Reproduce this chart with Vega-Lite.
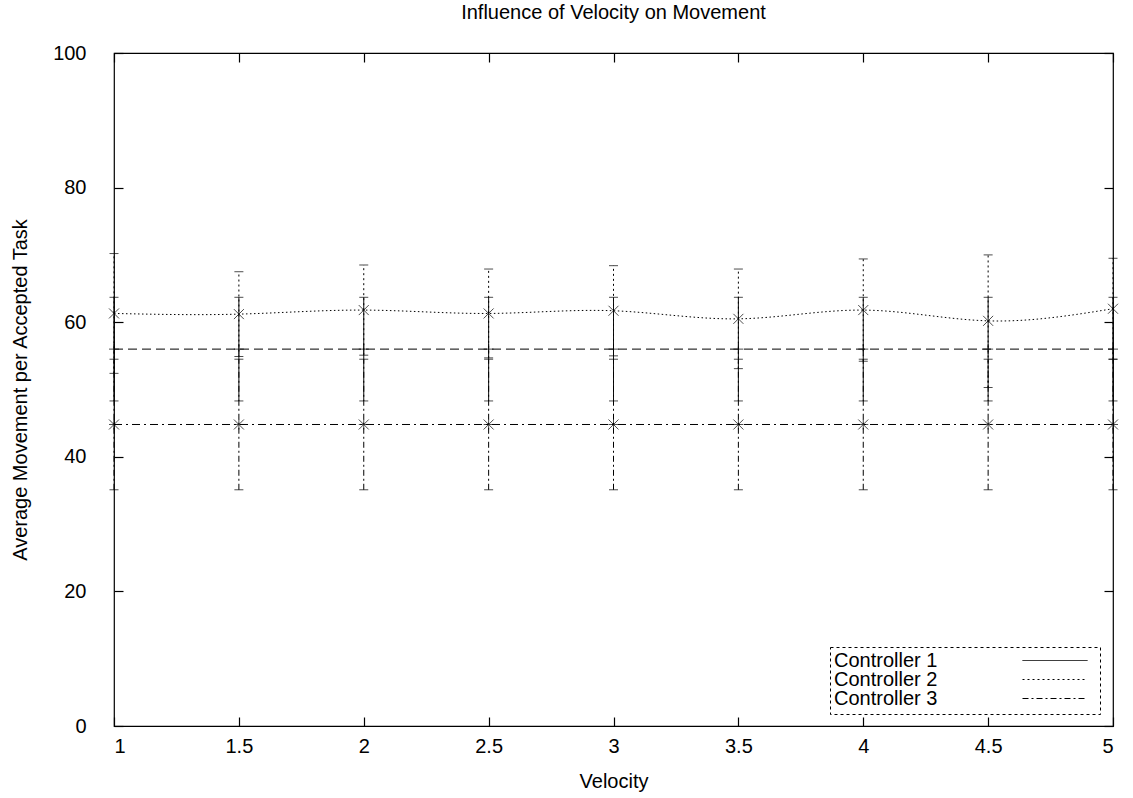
{
  "$schema": "https://vega.github.io/schema/vega-lite/v6.json",
  "width": 999,
  "height": 673,
  "autosize": "none",
  "padding": {"left": 114, "top": 53, "right": 20, "bottom": 72},
  "background": "white",
  "title": {"text": "Influence of Velocity on Movement", "fontSize": 20, "font": "Liberation Sans", "fontWeight": "normal", "color": "black", "offset": 20, "anchor": "middle"},
  "config": {
    "view": {"stroke": "black", "strokeWidth": 1.2},
    "font": "Liberation Sans",
    "axis": {"grid": false, "domain": false, "tickColor": "black", "tickSize": -9, "tickWidth": 1.2, "labelColor": "black", "labelFontSize": 20, "titleFontSize": 20, "titleFontWeight": "normal", "titleColor": "black", "labelFont": "Liberation Sans", "titleFont": "Liberation Sans"}
  },
  "data": {"values": [
    {"x": 1, "series": "Controller 1", "mean": 56.0, "lo": 48.3, "hi": 63.7},
    {"x": 1.5, "series": "Controller 1", "mean": 56.0, "lo": 48.3, "hi": 63.7},
    {"x": 2, "series": "Controller 1", "mean": 56.0, "lo": 48.3, "hi": 63.7},
    {"x": 2.5, "series": "Controller 1", "mean": 56.0, "lo": 48.3, "hi": 63.7},
    {"x": 3, "series": "Controller 1", "mean": 56.0, "lo": 48.3, "hi": 63.7},
    {"x": 3.5, "series": "Controller 1", "mean": 56.0, "lo": 48.3, "hi": 63.7},
    {"x": 4, "series": "Controller 1", "mean": 56.0, "lo": 48.3, "hi": 63.7},
    {"x": 4.5, "series": "Controller 1", "mean": 56.0, "lo": 48.3, "hi": 63.7},
    {"x": 5, "series": "Controller 1", "mean": 56.0, "lo": 48.3, "hi": 63.7},
    {"x": 1, "series": "Controller 2", "mean": 61.3, "lo": 52.4, "hi": 70.2},
    {"x": 1.5, "series": "Controller 2", "mean": 61.2, "lo": 54.9, "hi": 67.5},
    {"x": 2, "series": "Controller 2", "mean": 61.8, "lo": 55.1, "hi": 68.5},
    {"x": 2.5, "series": "Controller 2", "mean": 61.3, "lo": 54.7, "hi": 67.9},
    {"x": 3, "series": "Controller 2", "mean": 61.7, "lo": 55.0, "hi": 68.4},
    {"x": 3.5, "series": "Controller 2", "mean": 60.5, "lo": 53.1, "hi": 67.9},
    {"x": 4, "series": "Controller 2", "mean": 61.8, "lo": 54.2, "hi": 69.4},
    {"x": 4.5, "series": "Controller 2", "mean": 60.2, "lo": 50.3, "hi": 70.0},
    {"x": 5, "series": "Controller 2", "mean": 62.0, "lo": 54.5, "hi": 69.5},
    {"x": 1, "series": "Controller 3", "mean": 44.8, "lo": 35.1, "hi": 54.5},
    {"x": 1.5, "series": "Controller 3", "mean": 44.8, "lo": 35.1, "hi": 54.5},
    {"x": 2, "series": "Controller 3", "mean": 44.8, "lo": 35.1, "hi": 54.5},
    {"x": 2.5, "series": "Controller 3", "mean": 44.8, "lo": 35.1, "hi": 54.5},
    {"x": 3, "series": "Controller 3", "mean": 44.8, "lo": 35.1, "hi": 54.5},
    {"x": 3.5, "series": "Controller 3", "mean": 44.8, "lo": 35.1, "hi": 54.5},
    {"x": 4, "series": "Controller 3", "mean": 44.8, "lo": 35.1, "hi": 54.5},
    {"x": 4.5, "series": "Controller 3", "mean": 44.8, "lo": 35.1, "hi": 54.5},
    {"x": 5, "series": "Controller 3", "mean": 44.8, "lo": 35.1, "hi": 54.5}
  ]},
  "layer": [
    {
      "mark": {"type": "rule", "color": "black", "strokeWidth": 1},
      "encoding": {
        "x": {"field": "x", "type": "quantitative", "scale": {"domain": [1, 5], "nice": false, "zero": false}, "axis": {"values": [1, 1.5, 2, 2.5, 3, 3.5, 4, 4.5, 5], "title": "Velocity", "labelPadding": 19, "titlePadding": 15, "format": "~g"}},
        "y": {"field": "lo", "type": "quantitative", "scale": {"domain": [0, 100], "nice": false}, "axis": {"values": [0, 20, 40, 60, 80, 100], "title": "Average Movement per Accepted Task", "labelPadding": 37, "titlePadding": 22}},
        "y2": {"field": "hi"},
        "strokeDash": {"field": "series", "type": "nominal", "scale": {"domain": ["Controller 1", "Controller 2", "Controller 3"], "range": [[1, 0], [2, 3], [6, 3, 2, 3]]},
          "legend": {"title": null, "orient": "none", "legendX": 716, "legendY": 594, "symbolType": "M-1,0L1,0", "symbolSize": 4225, "clipHeight": 17, "symbolStrokeColor": "black", "symbolStrokeWidth": 1, "labelFontSize": 20, "labelFont": "Liberation Sans", "labelColor": "black", "symbolOffset": 187, "labelOffset": -254, "rowPadding": -4, "padding": 5, "strokeColor": "black", "labelLimit": 300,
            "encode": {"legend": {"update": {"strokeDash": {"value": [3, 3]}}}, "entries": {"update": {"clip": {"value": false}, "width": {"value": 260}}}}}}
      }
    },
    {
      "mark": {"type": "tick", "orient": "horizontal", "color": "black", "size": 9, "thickness": 1},
      "encoding": {"x": {"field": "x", "type": "quantitative", "axis": null}, "y": {"field": "lo", "type": "quantitative", "axis": null}}
    },
    {
      "mark": {"type": "tick", "orient": "horizontal", "color": "black", "size": 9, "thickness": 1},
      "encoding": {"x": {"field": "x", "type": "quantitative", "axis": null}, "y": {"field": "hi", "type": "quantitative", "axis": null}}
    },
    {
      "transform": [{"filter": "datum.series === 'Controller 1'"}],
      "mark": {"type": "line", "color": "black", "strokeWidth": 1, "strokeDash": [9, 5]},
      "encoding": {"x": {"field": "x", "type": "quantitative", "axis": null}, "y": {"field": "mean", "type": "quantitative", "axis": null}}
    },
    {
      "transform": [{"filter": "datum.series === 'Controller 2'"}],
      "mark": {"type": "line", "color": "black", "strokeWidth": 1, "strokeDash": [1.5, 2.5], "interpolate": "natural"},
      "encoding": {"x": {"field": "x", "type": "quantitative", "axis": null}, "y": {"field": "mean", "type": "quantitative", "axis": null}}
    },
    {
      "transform": [{"filter": "datum.series === 'Controller 3'"}],
      "mark": {"type": "line", "color": "black", "strokeWidth": 1, "strokeDash": [8, 4, 2, 4]},
      "encoding": {"x": {"field": "x", "type": "quantitative", "axis": null}, "y": {"field": "mean", "type": "quantitative", "axis": null}}
    },
    {
      "transform": [{"filter": "datum.series === 'Controller 1'"}],
      "mark": {"type": "point", "shape": "M-1,0L1,0M0,-1L0,1", "size": 100, "stroke": "black", "strokeWidth": 1, "filled": false},
      "encoding": {"x": {"field": "x", "type": "quantitative", "axis": null}, "y": {"field": "mean", "type": "quantitative", "axis": null}}
    },
    {
      "transform": [{"filter": "datum.series === 'Controller 2'"}],
      "mark": {"type": "point", "shape": "M-1,-1L1,1M-1,1L1,-1", "size": 100, "stroke": "black", "strokeWidth": 1, "filled": false},
      "encoding": {"x": {"field": "x", "type": "quantitative", "axis": null}, "y": {"field": "mean", "type": "quantitative", "axis": null}}
    },
    {
      "transform": [{"filter": "datum.series === 'Controller 3'"}],
      "mark": {"type": "point", "shape": "M-1,-1L1,1M-1,1L1,-1M-1,0L1,0M0,-1L0,1", "size": 100, "stroke": "black", "strokeWidth": 1, "filled": false},
      "encoding": {"x": {"field": "x", "type": "quantitative", "axis": null}, "y": {"field": "mean", "type": "quantitative", "axis": null}}
    },
    {
      "mark": {"type": "point", "opacity": 0},
      "encoding": {
        "x": {"field": "x", "type": "quantitative", "axis": {"orient": "top", "values": [1, 1.5, 2, 2.5, 3, 3.5, 4, 4.5, 5], "labels": false, "title": null}},
        "y": {"field": "mean", "type": "quantitative", "axis": {"orient": "right", "values": [0, 20, 40, 60, 80, 100], "labels": false, "title": null}}
      }
    }
  ],
  "resolve": {"axis": {"x": "independent", "y": "independent"}}
}
